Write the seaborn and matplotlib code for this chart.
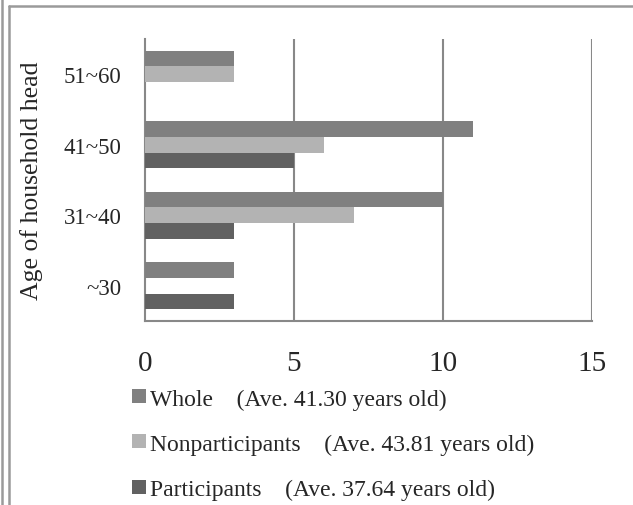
import matplotlib
matplotlib.use("Agg")
import matplotlib.pyplot as plt
from matplotlib.lines import Line2D
import seaborn as sns
import pandas as pd

# Household-head age brackets (top to bottom) and counts per group
age_groups = ["51~60", "41~50", "31~40", "~30"]
groups = ["Whole", "Nonparticipants", "Participants"]
average_age = ["41.30", "43.81", "37.64"]
whole = [3, 11, 10, 3]
nonparticipants = [3, 6, 7, 0]
participants = [0, 5, 3, 3]
x_ticks = [0, 5, 10, 15]

colors = ["#808080", "#b3b3b3", "#616161"]

rows = []
for series, values in zip(groups, [whole, nonparticipants, participants]):
    for age, v in zip(age_groups, values):
        rows.append({"age": age, "group": series, "count": v})
df = pd.DataFrame(rows)

sns.set_style("white")
plt.rcParams["font.family"] = ["Liberation Serif", "DejaVu Serif"]

fig = plt.figure(figsize=(6.33, 5.06), dpi=100)
W, H = 633, 506
ax = fig.add_axes([145 / W, 1 - 322 / H, (592 - 145) / W, (322 - 40) / H])

sns.barplot(data=df, x="count", y="age", hue="group", order=age_groups,
            hue_order=groups, palette=colors, orient="h", width=0.66,
            linewidth=0, saturation=1, errorbar=None, ax=ax, zorder=3)

ax.set_xlim(0, 15)
ax.set_xticks(x_ticks)
ax.set_xticklabels([str(t) for t in x_ticks], fontsize=21)
ax.tick_params(axis="x", length=0, pad=21)
ax.tick_params(axis="y", length=0, pad=17, labelsize=16.5)
ax.set_xlabel("")
ax.set_ylabel("Age of household head", fontsize=18.5)
ax.yaxis.set_label_coords(-0.228, 0.5)

ax.grid(False)
for t in x_ticks[1:]:
    ax.axvline(t, color="#888888", lw=1.5, zorder=1)
for side in ["top", "right"]:
    ax.spines[side].set_visible(False)
for side in ["left", "bottom"]:
    ax.spines[side].set_color("#888888")
    ax.spines[side].set_linewidth(1.5)

# Legend with group averages
ax.get_legend().remove()
handles = [Line2D([0], [0], marker="s", linestyle="none", markersize=9.4,
                  markerfacecolor=c, markeredgewidth=0) for c in colors]
labels = [f"{g}\u2003(Ave. {a} years old)" for g, a in zip(groups, average_age)]
fig.legend(handles, labels, loc="upper left", bbox_to_anchor=(131.5 / W, 1 - 389 / H),
           frameon=False, fontsize=17, handlelength=0.6, handletextpad=0.2,
           labelspacing=1.0, borderaxespad=0, borderpad=0)

# Outer frame lines
frame_kw = dict(color="#9a9a9a", lw=1.8, transform=fig.transFigure, clip_on=False)
fig.add_artist(Line2D([1.5 / W, 1.5 / W], [0, 1], **frame_kw))
fig.add_artist(Line2D([8.5 / W, 8.5 / W], [0, 1 - 7 / H], **frame_kw))
fig.add_artist(Line2D([8.5 / W, 1], [1 - 7 / H, 1 - 7 / H], **frame_kw))

fig.savefig("out.png", dpi=100)
